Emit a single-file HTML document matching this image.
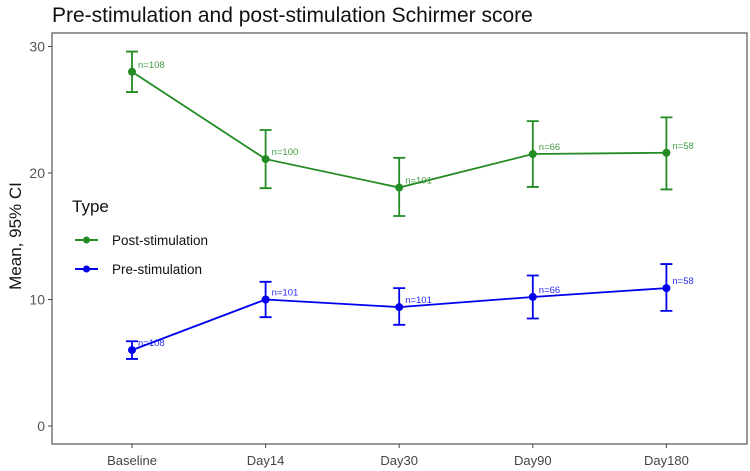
<!DOCTYPE html>
<html><head><meta charset="utf-8"><style>
body{margin:0;background:#fff;}
svg{display:block;font-family:"Liberation Sans",sans-serif;}
</style></head><body>
<svg id="c" width="750" height="471">
<text x="52" y="22" font-size="21" fill="#111">Pre-stimulation and post-stimulation Schirmer score</text>
<rect x="52" y="33" width="695" height="411" fill="none" stroke="#555" stroke-width="1.2"/>
<text transform="translate(21,236) rotate(-90)" text-anchor="middle" font-size="17" fill="#111">Mean, 95% CI</text>
<g id="axes"></g><g id="series"></g>
<g>
<text x="72" y="212" font-size="17" fill="#111">Type</text>
<g><line x1="75" y1="240" x2="98" y2="240" stroke="#228B22" stroke-width="2"/><circle cx="86.5" cy="240" r="3.5" fill="#228B22"/><text x="112" y="245" font-size="13.5" fill="#111">Post-stimulation</text></g>
<g><line x1="75" y1="269" x2="98" y2="269" stroke="#0000EE" stroke-width="2"/><circle cx="86.5" cy="269" r="3.5" fill="#0000EE"/><text x="112" y="274" font-size="13.5" fill="#111">Pre-stimulation</text></g>
</g>
</svg>
<script>
const categories=["Baseline","Day14","Day30","Day90","Day180"];
const yTicks=[0,10,20,30];
const postMean=[28.0,21.1,18.85,21.5,21.6];
const postLow=[26.4,18.8,16.6,18.9,18.7];
const postHigh=[29.6,23.4,21.2,24.1,24.4];
const postN=["n=108","n=100","n=101","n=66","n=58"];
const preMean=[6.0,10.0,9.4,10.2,10.9];
const preLow=[5.3,8.6,8.0,8.5,9.1];
const preHigh=[6.7,11.4,10.9,11.9,12.8];
const preN=["n=108","n=101","n=101","n=66","n=58"];
const NS="http://www.w3.org/2000/svg";
function xs(i){return 132+i*133.6;}
function ys(v){return 426-v*12.65;}
function mk(t,a,p){const e=document.createElementNS(NS,t);for(const k in a)e.setAttribute(k,a[k]);p.appendChild(e);return e;}
const ax=document.getElementById('axes');
yTicks.forEach(v=>{
  const g=mk('g',{},ax);
  
  
  mk('line',{x1:48,x2:52,y1:ys(v),y2:ys(v),stroke:'#444'},g);
  const t=mk('text',{x:45,y:ys(v)+5,'text-anchor':'end','font-size':14,fill:'#555'},g);t.textContent=v;
});
categories.forEach((c,i)=>{
  const g=mk('g',{},ax);
  
  
  mk('line',{x1:xs(i),x2:xs(i),y1:444,y2:448,stroke:'#444'},g);
  const t=mk('text',{x:xs(i),y:465,'text-anchor':'middle','font-size':13,fill:'#444'},g);t.textContent=c;
});
function series(name,mean,lo,hi,ns,col){
  const g=mk('g',{},document.getElementById('series'));
  
  
  const l=mk('polyline',{points:mean.map((v,i)=>xs(i)+','+ys(v)).join(' '),fill:'none',stroke:col,'stroke-width':1.8},g);
  
  
  mean.forEach((v,i)=>{
    const x=xs(i);
    const e=mk('path',{d:`M${x-6},${ys(hi[i])}H${x+6}M${x},${ys(hi[i])}V${ys(lo[i])}M${x-6},${ys(lo[i])}H${x+6}`,stroke:col,'stroke-width':1.8,fill:'none'},g);
    
    
    const p=mk('circle',{cx:x,cy:ys(v),r:4,fill:col},g);
    
    
    const t=mk('text',{x:x+6,y:ys(v)-4,'font-size':9.5,fill:col,opacity:0.85},g);
    t.textContent=ns[i];
    
    
  });
}
series('post',postMean,postLow,postHigh,postN,'#228B22');
series('pre',preMean,preLow,preHigh,preN,'#0000EE');
</script>
</body></html>
